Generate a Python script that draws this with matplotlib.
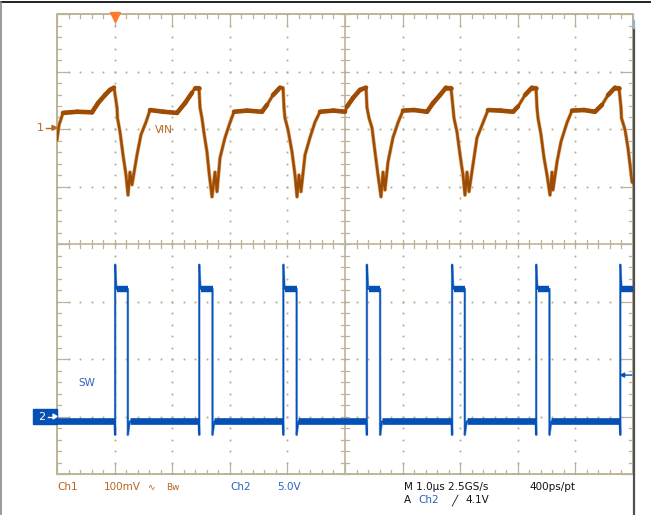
import numpy as np
import matplotlib
matplotlib.use("Agg")
import matplotlib.pyplot as plt
from matplotlib.lines import Line2D
from matplotlib.patches import Rectangle, Polygon

# ---------------- data ----------------
# Ch1 (VIN) trace vertices: time in microseconds, voltage in mV (AC, relative to ch1 marker)
vin_t = [0.000, 0.035, 0.104, 0.350, 0.608, 0.712, 0.833, 0.920, 0.990,
         1.042, 1.050, 1.094, 1.146, 1.198, 1.233, 1.267, 1.302, 1.389, 1.458, 1.545, 1.615,
         1.850, 2.083, 2.222, 2.344, 2.396, 2.465,
         2.483, 2.517, 2.552, 2.604, 2.639, 2.691, 2.743, 2.778, 2.830, 2.917, 3.003, 3.073,
         3.300, 3.559, 3.646, 3.750, 3.872, 3.924,
         3.941, 3.958, 4.010, 4.080, 4.132, 4.167, 4.201, 4.236, 4.306, 4.392, 4.479, 4.566,
         4.800, 5.000, 5.035, 5.139, 5.260, 5.365,
         5.382, 5.417, 5.469, 5.521, 5.573, 5.625, 5.660, 5.694, 5.747, 5.833, 5.920, 6.007,
         6.200, 6.424, 6.528, 6.649, 6.753, 6.840,
         6.875, 6.892, 6.944, 6.997, 7.049, 7.083, 7.118, 7.153, 7.222, 7.292, 7.396, 7.483,
         7.700, 7.917, 8.003, 8.125, 8.247, 8.316,
         8.333, 8.351, 8.403, 8.455, 8.507, 8.559, 8.594, 8.611, 8.681, 8.750, 8.854, 8.941,
         9.150, 9.340, 9.462, 9.566, 9.688, 9.757,
         9.792, 9.800, 9.861, 9.913, 9.948, 9.983, 10.000]
vin_mv = [-21, 5, 26, 28, 27, 43, 57, 66, 70,
          35, 17, -7, -47, -82, -117, -77, -99, -47, -12, 10, 31,
          28, 26, 43, 61, 70, 70,
          35, 17, -9, -42, -77, -120, -77, -111, -52, -17, 9, 28,
          30, 28, 40, 57, 70, 70,
          35, 17, -3, -42, -82, -120, -82, -111, -47, -17, 10, 28,
          30, 28, 37, 52, 66, 70,
          35, 17, 0, -42, -82, -120, -77, -108, -59, -17, 9, 30,
          31, 28, 43, 57, 70, 70,
          35, 17, -7, -47, -82, -117, -77, -111, -64, -17, 9, 31,
          30, 28, 37, 57, 70, 70,
          35, 17, -12, -52, -82, -117, -77, -108, -59, -24, 9, 30,
          31, 28, 40, 57, 70, 70,
          35, 17, -3, -35, -64, -94, -96]

# Ch2 (SW) switching node: edge times (us) and levels (V)
sw_rise_us = [1.01, 2.47, 3.93, 5.38, 6.86, 8.32, 9.78]
sw_fall_us = [1.23, 2.70, 4.16, 5.61, 7.08, 8.55, None]   # last pulse still high at screen edge
sw_high_v = 11.1
sw_low_v = -0.43
sw_spike_v = 13.2
sw_under_v = -1.6

ch1_mv_per_div = 100.0
ch2_v_per_div = 5.0
ch1_offset_div = 2.02
ch2_offset_div = -3.0
trigger_time_us = 1.01
trigger_marker_v = 3.6

bottom_row1 = [("Ch1", "ch1"), ("100mV", "ch1"), ("\u223f", "ch1"), ("Bw", "ch1"),
               ("Ch2", "ch2"), ("5.0V", "ch2"), ("M 1.0\u00b5s 2.5GS/s", "k"), ("400ps/pt", "k")]
bottom_row2 = [("A", "k"), ("Ch2", "ch2"), ("\u2571", "k"), ("4.1V", "k")]

# ---------------- styling ----------------
W, H = 651, 515
C_GRID = "#bdb498"
C_DOT = "#b3aa8e"
C_CH1 = "#9e4c04"
C_CH1_HALO = "#d9a874"
C_CH1_TXT = "#b5661f"
C_CH2 = "#0450b4"
C_CH2_HALO = "#7ea6dc"
C_CH2_TXT = "#2a63bf"
C_TRIG = "#ff7a2a"

def fx(x):
    return x / W

def fy(y):
    return 1 - y / H

fig = plt.figure(figsize=(W / 100, H / 100), dpi=100)
fig.patch.set_facecolor("white")

L, R, T, B = 57, 633, 14, 474
ax = fig.add_axes([fx(L), fy(B), (R - L) / W, (B - T) / H])
ax.set_xlim(0, 10)
ax.set_ylim(-4, 4)
ax.axis("off")

# ---------------- graticule ----------------
minor = np.round(np.arange(0, 10.0001, 0.2), 3)
minor_y = np.round(np.arange(-4, 4.0001, 0.2), 3)
tl_x = 4 / 57.6
tl_y = 4 / 57.5
maj_x = 11 / 57.6
maj_y = 11 / 57.5
gkw = dict(color=C_GRID, lw=0.9, clip_on=False, zorder=1)

# border
ax.plot([0, 10, 10, 0, 0], [-4, -4, 4, 4, -4], color=C_GRID, lw=1.4, clip_on=False, zorder=1)
for x in minor:
    is_major = abs(x - round(x)) < 1e-6
    l = maj_y if is_major else tl_y
    ax.plot([x, x], [4, 4 - l], **gkw)
    ax.plot([x, x], [-4, -4 + l], **gkw)
    ax.plot([x, x], [-tl_y, tl_y], **gkw)
for y in minor_y:
    is_major = abs(y - round(y)) < 1e-6
    l = maj_x if is_major else tl_x
    ax.plot([0, l], [y, y], **gkw)
    ax.plot([10, 10 - l], [y, y], **gkw)
    ax.plot([5 - tl_x, 5 + tl_x], [y, y], **gkw)
# centre lines
ax.plot([5, 5], [-4, 4], color=C_GRID, lw=1.2, zorder=1)
ax.plot([0, 10], [0, 0], color=C_GRID, lw=1.2, zorder=1)
# dotted lines
for xv in range(1, 10):
    if xv == 5:
        continue
    ax.plot(np.full_like(minor_y, xv), minor_y, ls="none", marker="s", ms=1.3,
            mec="none", mfc=C_DOT, zorder=1)
for yv in range(-3, 4):
    if yv == 0:
        continue
    ax.plot(minor, np.full_like(minor, yv), ls="none", marker="s", ms=1.3,
            mec="none", mfc=C_DOT, zorder=1)

# ---------------- Ch1 trace (VIN) ----------------
vin_y = ch1_offset_div + np.array(vin_mv) / ch1_mv_per_div
ax.plot(vin_t, vin_y, color=C_CH1_HALO, lw=2.7, zorder=3)
ax.plot(vin_t, vin_y, color=C_CH1, lw=1.8, zorder=4)
# noisy, flatter portions of the trace appear as a thicker band
for i in range(len(vin_t) - 1):
    dt = vin_t[i + 1] - vin_t[i]
    dv = abs(vin_mv[i + 1] - vin_mv[i])
    if dt > 0.06 and dv / dt < 160:
        ax.plot(vin_t[i:i + 2], vin_y[i:i + 2], color=C_CH1, lw=3.3,
                solid_capstyle="round", zorder=4)

# ---------------- Ch2 trace (SW) ----------------
sw_x, sw_v = [0.0], [sw_low_v]
low_segs, high_segs = [], []
prev_end = 0.0
for r, f in zip(sw_rise_us, sw_fall_us):
    low_segs.append((prev_end, r - 0.01))
    sw_x += [r - 0.01, r, r, r + 0.02]
    sw_v += [sw_low_v, sw_under_v, sw_spike_v, sw_high_v]
    if f is None:
        sw_x += [10.0]
        sw_v += [sw_high_v]
        high_segs.append((r + 0.02, 10.0))
        prev_end = None
    else:
        sw_x += [f, f, f + 0.03]
        sw_v += [sw_high_v, sw_under_v, sw_low_v]
        high_segs.append((r + 0.03, f))
        prev_end = f + 0.03
if prev_end is not None:
    sw_x += [10.0]
    sw_v += [sw_low_v]
    low_segs.append((prev_end, 10.0))
sw_y = ch2_offset_div + np.array(sw_v) / ch2_v_per_div
ax.plot(sw_x, sw_y, color=C_CH2_HALO, lw=1.8, zorder=3)
ax.plot(sw_x, sw_y, color=C_CH2, lw=1.0, zorder=4)
ylo = ch2_offset_div + sw_low_v / ch2_v_per_div
yhi = ch2_offset_div + sw_high_v / ch2_v_per_div
for a, b in low_segs:
    ax.plot([a, b], [ylo, ylo], color=C_CH2, lw=4.8, solid_capstyle="butt", zorder=4)
for a, b in high_segs:
    ax.plot([a, b], [yhi, yhi], color=C_CH2, lw=4.6, solid_capstyle="butt", zorder=4)

# trigger level arrow (right side)
ty = ch2_offset_div + trigger_marker_v / ch2_v_per_div
ax.annotate("", xy=(9.76, ty), xytext=(9.98, ty),
            arrowprops=dict(arrowstyle="-|>", color=C_CH2, lw=1.0, mutation_scale=7,
                            shrinkA=0, shrinkB=0),
            zorder=5, annotation_clip=False)

# trigger position marker (top)
ax.plot([trigger_time_us], [4 - 0.06], marker="v", ms=7, color=C_TRIG, mec=C_TRIG,
        clip_on=False, zorder=6)

# labels on screen
ax.text(1.86, 1.98, "VIN", color=C_CH1_TXT, fontsize=7.5, ha="center", va="center", zorder=6)
ax.text(0.52, -2.42, "SW", color=C_CH2_TXT, fontsize=7.5, ha="center", va="center", zorder=6)

# ---------------- channel markers (left) ----------------
y1 = B - (ch1_offset_div + 4) * 57.5
fig.text(fx(40), fy(y1), "1", color=C_CH1_TXT, fontsize=8, ha="center", va="center")
fig.add_artist(Line2D([fx(46), fx(53)], [fy(y1), fy(y1)], color=C_CH1_TXT, lw=1.0))
fig.add_artist(Polygon([[fx(52), fy(y1 - 2.5)], [fx(57), fy(y1)], [fx(52), fy(y1 + 2.5)]],
                       closed=True, color=C_CH1_TXT, transform=fig.transFigure))

y2 = B - (ch2_offset_div + 4) * 57.5
fig.add_artist(Rectangle((fx(33), fy(y2 + 7.5)), (57 - 33) / W, 15 / H, color=C_CH2,
                         transform=fig.transFigure))
fig.text(fx(42), fy(y2), "2", color="white", fontsize=8, ha="center", va="center")
fig.add_artist(Line2D([fx(48), fx(54)], [fy(y2), fy(y2)], color="white", lw=1.0))
fig.add_artist(Polygon([[fx(53), fy(y2 - 2.5)], [fx(57), fy(y2)], [fx(53), fy(y2 + 2.5)]],
                       closed=True, color="white", transform=fig.transFigure))

# ---------------- frame ----------------
fig.add_artist(Line2D([0, 1], [fy(1.5), fy(1.5)], color="#111111", lw=1.3))
fig.add_artist(Line2D([fx(0.6), fx(0.6)], [0, fy(1.5)], color="#8a8a8a", lw=1.2))
fig.add_artist(Line2D([fx(634), fx(634)], [0, fy(28)], color="#505050", lw=1.6))
fig.add_artist(Line2D([fx(634), fx(634)], [fy(28), fy(21)], color="#8fb3d9", lw=1.6))

# ---------------- bottom readout ----------------
colors = {"ch1": C_CH1_TXT, "ch2": C_CH2_TXT, "k": "#111111"}
xs1 = [57, 104, 147, 166, 230, 277, 404, 529]
for (s, c), x in zip(bottom_row1, xs1):
    fs = 7.5 if s not in ("\u223f", "Bw") else 6.5
    fig.text(fx(x), fy(487), s, color=colors[c], fontsize=fs, ha="left", va="center")
xs2 = [404, 418, 451, 465]
for (s, c), x in zip(bottom_row2, xs2):
    fig.text(fx(x), fy(500), s, color=colors[c], fontsize=7.5, ha="left", va="center")

fig.savefig("out.png", dpi=100)
